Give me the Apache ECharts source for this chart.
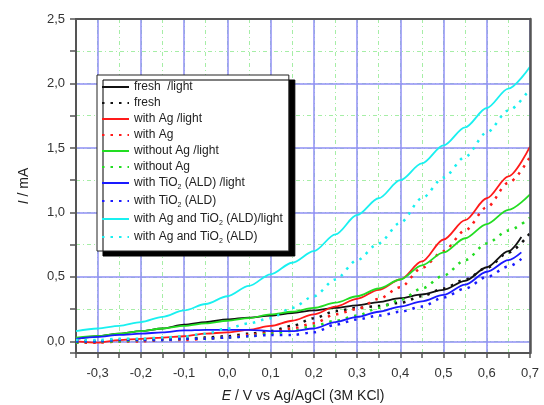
<!DOCTYPE html>
<html>
<head>
<meta charset="utf-8">
<script src="https://cdn.jsdelivr.net/npm/echarts@6/dist/echarts.min.js"></script>
<style>
  html, body { margin: 0; padding: 0; background: #fff; }
  #chart { width: 544px; height: 405px; }
</style>
</head>
<body>
<div id="chart"></div>
<script>
// potential, V vs Ag/AgCl
const ePot = [-0.35, -0.3, -0.25, -0.2, -0.15, -0.1, -0.05, 0, 0.05, 0.1, 0.15, 0.2, 0.25, 0.3, 0.35, 0.4, 0.45, 0.5, 0.55, 0.6, 0.65, 0.7]
const ePotShort = [-0.35, -0.3, -0.25, -0.2, -0.15, -0.1, -0.05, 0, 0.05, 0.1, 0.15, 0.2, 0.25, 0.3, 0.35, 0.4, 0.45, 0.5, 0.55, 0.6, 0.65, 0.68]

// current, mA
const freshLight = [0.02, 0.04, 0.06, 0.08, 0.10, 0.13, 0.15, 0.17, 0.185, 0.20, 0.22, 0.24, 0.26, 0.28, 0.305, 0.335, 0.365, 0.40, 0.47, 0.575, 0.70, 0.81]
const fresh = [0.0, 0.0, 0.01, 0.01, 0.02, 0.02, 0.03, 0.04, 0.06, 0.08, 0.12, 0.18, 0.235, 0.26, 0.275, 0.30, 0.35, 0.41, 0.48, 0.57, 0.69, 0.84]
const agLight = [0.0, -0.01, 0.01, 0.02, 0.03, 0.04, 0.06, 0.07, 0.09, 0.12, 0.16, 0.21, 0.27, 0.33, 0.40, 0.48, 0.62, 0.79, 0.94, 1.11, 1.28, 1.51]
const ag = [-0.01, -0.01, 0.0, 0.0, 0.01, 0.01, 0.02, 0.03, 0.05, 0.07, 0.10, 0.14, 0.21, 0.25, 0.33, 0.42, 0.57, 0.70, 0.86, 1.04, 1.23, 1.43]
const noAgLight = [0.03, 0.04, 0.06, 0.08, 0.10, 0.12, 0.14, 0.16, 0.18, 0.21, 0.23, 0.26, 0.30, 0.35, 0.41, 0.48, 0.59, 0.69, 0.80, 0.91, 1.02, 1.14]
const noAg = [-0.01, 0.0, 0.0, 0.01, 0.01, 0.02, 0.02, 0.03, 0.04, 0.06, 0.08, 0.12, 0.16, 0.20, 0.26, 0.32, 0.41, 0.51, 0.63, 0.76, 0.86, 0.96]
const tioLight = [0.02, 0.035, 0.05, 0.06, 0.07, 0.085, 0.09, 0.09, 0.09, 0.08, 0.08, 0.10, 0.15, 0.19, 0.23, 0.27, 0.31, 0.36, 0.44, 0.54, 0.63, 0.69]
const tio = [0.0, 0.0, 0.01, 0.01, 0.01, 0.02, 0.02, 0.03, 0.04, 0.05, 0.05, 0.07, 0.13, 0.17, 0.20, 0.23, 0.27, 0.34, 0.41, 0.50, 0.58, 0.64]
const agTioLight = [0.08, 0.10, 0.12, 0.15, 0.19, 0.24, 0.29, 0.35, 0.43, 0.52, 0.61, 0.70, 0.83, 0.98, 1.11, 1.25, 1.38, 1.52, 1.66, 1.81, 1.96, 2.13]
const agTio = [0.01, 0.01, 0.02, 0.02, 0.03, 0.04, 0.06, 0.10, 0.14, 0.18, 0.26, 0.35, 0.48, 0.63, 0.76, 0.92, 1.11, 1.27, 1.43, 1.62, 1.79, 1.96]

const seriesNames = [
  'fresh  /light', 'fresh',
  'with Ag /light', 'with Ag',
  'without Ag /light', 'without Ag',
  'with TiO2 (ALD) /light', 'with TiO2 (ALD)',
  'with Ag and TiO2 (ALD)/light', 'with Ag and TiO2 (ALD)'
]
const seriesColors = ['#111111', '#111111', '#ff1a1a', '#ff1a1a', '#22dd22', '#22dd22', '#1a1aff', '#1a1aff', '#19f0f0', '#19f0f0']
const seriesValues = [freshLight, fresh, agLight, ag, noAgLight, noAg, tioLight, tio, agTioLight, agTio]
const seriesX = [ePotShort, ePot, ePot, ePot, ePot, ePot, ePotShort, ePotShort, ePot, ePot]

const fmt = v => v.toFixed(1).replace('.', ',')
const frameColor = '#555'

const chart = echarts.init(document.getElementById('chart'))

const series = seriesNames.map((name, i) => {
  const dotted = i % 2 === 1
  return {
    name: name,
    type: 'line',
    xAxisIndex: 0,
    yAxisIndex: 0,
    symbol: 'none',
    smooth: 0.3,
    smoothMonotone: 'x',
    z: 2,
    data: seriesValues[i].map((v, k) => [seriesX[i][k], v]),
    itemStyle: { color: seriesColors[i] },
    lineStyle: dotted
      ? { color: seriesColors[i], width: 2.5, type: [2.5, 6], cap: 'butt' }
      : { color: seriesColors[i], width: 1.8 }
  }
})

chart.setOption({
  backgroundColor: '#fff',
  animation: false,
  textStyle: { fontFamily: 'Liberation Sans' },
  grid: { left: 76, right: 14, top: 19, bottom: 52, containLabel: false, outerBoundsMode: 'none' },
  legend: {
    orient: 'vertical',
    left: 97,
    top: 75,
    padding: [6, 6, 6, 4],
    itemGap: 4,
    itemWidth: 27,
    itemHeight: 10,
    backgroundColor: '#fff',
    borderColor: '#222',
    borderWidth: 1,
    shadowColor: '#000',
    shadowBlur: 0,
    shadowOffsetX: 6,
    shadowOffsetY: 5,
    itemStyle: { opacity: 0 },
    data: seriesNames,
    formatter: name => name.replace('TiO2', 'TiO{sub|2}'),
    textStyle: {
      fontSize: 12,
      color: '#222',
      rich: { sub: { fontSize: 7, color: '#222', padding: [9, 0, 0, 0] } }
    }
  },
  xAxis: [{
    type: 'value',
    min: -0.35,
    max: 0.7,
    splitNumber: 10,
    minInterval: 0.1,
    maxInterval: 0.1,
    z: 1,
    name: '{it|E} / V vs Ag/AgCl (3M KCl)',
    nameLocation: 'middle',
    nameGap: 36,
    nameTextStyle: {
      fontSize: 14, color: '#222',
      rich: { it: { fontSize: 14, fontStyle: 'italic', color: '#222' } }
    },
    axisLine: { onZero: false, lineStyle: { color: frameColor, width: 2 } },
    axisTick: { show: false },
    axisLabel: { showMinLabel: false, formatter: fmt, fontSize: 13, color: '#333', margin: 14 },
    splitLine: { lineStyle: { color: '#8f8ff5', width: 1.5 } }
  }, {
    type: 'value',
    min: -0.35,
    max: 0.7,
    interval: 0.05,
    position: 'bottom',
    z: 0,
    axisLine: { show: false, onZero: false },
    axisTick: { show: true, length: 5, lineStyle: { color: frameColor, width: 1.5 } },
    axisLabel: { show: false },
    splitLine: { lineStyle: { color: '#a6eea6', width: 1, type: [4, 3, 1, 3] } }
  }, {
    type: 'value',
    min: -0.35,
    max: 0.7,
    position: 'top',
    z: 3,
    axisLine: { onZero: false, lineStyle: { color: frameColor, width: 2 } },
    axisTick: { show: false },
    axisLabel: { show: false },
    splitLine: { show: false }
  }],
  yAxis: [{
    type: 'value',
    min: -0.09,
    max: 2.5,
    splitNumber: 5,
    minInterval: 0.5,
    maxInterval: 0.5,
    z: 1,
    name: '{it|I} / mA',
    nameLocation: 'middle',
    nameGap: 45,
    nameTextStyle: {
      fontSize: 14, color: '#222',
      rich: { it: { fontSize: 14, fontStyle: 'italic', color: '#222' } }
    },
    axisLine: { onZero: false, lineStyle: { color: frameColor, width: 2 } },
    axisTick: { show: false },
    axisLabel: { showMinLabel: false, formatter: fmt, fontSize: 13, color: '#333', margin: 11 },
    splitLine: { lineStyle: { color: '#8f8ff5', width: 1.5 } }
  }, {
    type: 'value',
    min: -0.09,
    max: 2.5,
    splitNumber: 10,
    minInterval: 0.25,
    maxInterval: 0.25,
    position: 'left',
    z: 0,
    axisLine: { show: false, onZero: false },
    axisTick: { show: true, length: 6, lineStyle: { color: frameColor, width: 1.5 } },
    axisLabel: { show: false },
    splitLine: { lineStyle: { color: '#a6eea6', width: 1, type: [4, 3, 1, 3] } }
  }, {
    type: 'value',
    min: -0.09,
    max: 2.5,
    position: 'right',
    z: 3,
    axisLine: { onZero: false, lineStyle: { color: frameColor, width: 2.5 } },
    axisTick: { show: false },
    axisLabel: { show: false },
    splitLine: { show: false }
  }],
  series: series
})
</script>
</body>
</html>
